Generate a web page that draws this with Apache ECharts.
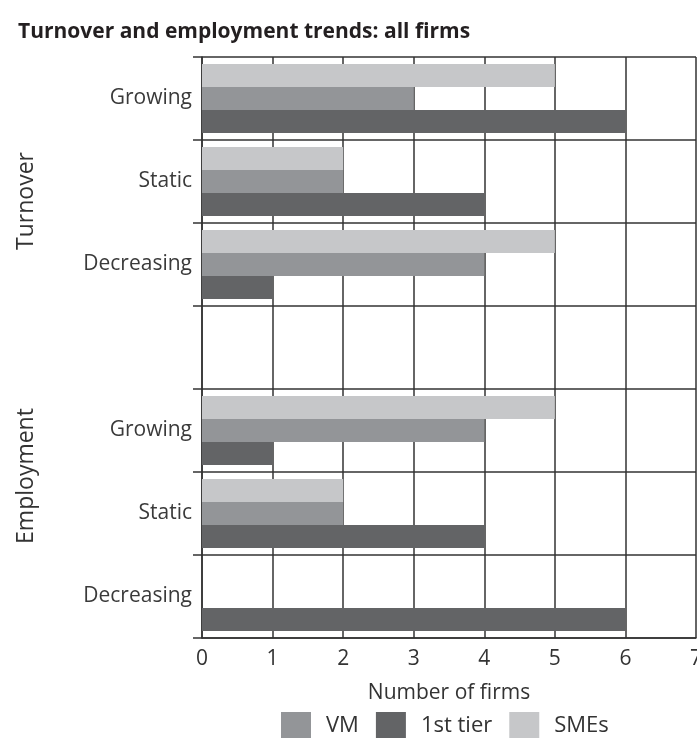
<!DOCTYPE html>
<html>
<head>
<meta charset="utf-8">
<script src="https://cdn.jsdelivr.net/npm/echarts@6/dist/echarts.min.js"></script>
<style>
  html, body { margin: 0; padding: 0; background: #ffffff; }
  #chart { width: 697px; height: 738px; }
</style>
</head>
<body>
<div id="chart"></div>
<script>
// categories top to bottom (empty one is the gap between the two groups)
var categories = ['Growing', 'Static', 'Decreasing', '', 'Growing', 'Static', 'Decreasing'];
var xTicks = [0, 1, 2, 3, 4, 5, 6, 7];

// number of firms per category
var smes     = [5, 2, 5, null, 5, 2, null];
var vm       = [3, 2, 4, null, 4, 2, null];
var firstTier = [6, 4, 1, null, 1, 4, 6];

var font = '"Open Sans", "Noto Sans", sans-serif';
var lineCol = '#333333';

var chart = echarts.init(document.getElementById('chart'));
chart.setOption({
    animation: false,
    textStyle: { fontFamily: font },
    title: {
        text: 'Turnover and employment trends: all firms',
        left: 18,
        top: 22,
        padding: 0,
        textStyle: { fontSize: 21, fontWeight: 'bold', color: '#231f20', fontFamily: font }
    },
    legend: {
        data: ['VM', '1st tier', 'SMEs'],
        left: 281,
        top: 712,
        itemWidth: 30,
        itemHeight: 28,
        itemGap: 17,
        padding: 0,
        icon: 'rect',
        textStyle: { fontSize: 22, color: '#333333', padding: [0, 0, 0, 10] }
    },
    grid: { left: 202, right: 1, top: 57, bottom: 100, outerBoundsMode: 'none', containLabel: false },
    xAxis: {
        type: 'value',
        min: xTicks[0],
        max: xTicks[xTicks.length - 1],
        interval: 1,
        name: 'Number of firms',
        nameLocation: 'middle',
        nameGap: 45,
        nameTextStyle: { fontSize: 21, color: '#333333' },
        axisLine: { show: true, lineStyle: { color: lineCol, width: 1.5 } },
        axisTick: { show: false },
        axisLabel: { fontSize: 21, color: '#333333', margin: 11 },
        splitLine: { show: true, lineStyle: { color: lineCol, width: 1.5 } }
    },
    yAxis: {
        type: 'category',
        inverse: true,
        data: categories,
        axisLine: { show: true, lineStyle: { color: lineCol, width: 1.5 } },
        axisTick: { show: true, length: 9, lineStyle: { color: lineCol, width: 1.5 } },
        axisLabel: { fontSize: 21, color: '#3a3a3a', margin: 10 },
        splitLine: { show: true, lineStyle: { color: lineCol, width: 1.5 } }
    },
    graphic: [
        {
            type: 'text', x: 26, y: 201, rotation: Math.PI / 2,
            style: { text: 'Turnover', font: '23px ' + font, fill: '#333333', align: 'center', verticalAlign: 'middle' }
        },
        {
            type: 'text', x: 26, y: 476, rotation: Math.PI / 2,
            style: { text: 'Employment', font: '23px ' + font, fill: '#333333', align: 'center', verticalAlign: 'middle' }
        }
    ],
    series: [
        { name: 'SMEs', type: 'bar', data: smes, barGap: 0, barCategoryGap: '17%', itemStyle: { color: '#c6c7c9' } },
        { name: 'VM', type: 'bar', data: vm, barGap: 0, barCategoryGap: '17%', itemStyle: { color: '#939598' } },
        { name: '1st tier', type: 'bar', data: firstTier, barGap: 0, barCategoryGap: '17%', itemStyle: { color: '#636466' } }
    ]
});
</script>
</body>
</html>
